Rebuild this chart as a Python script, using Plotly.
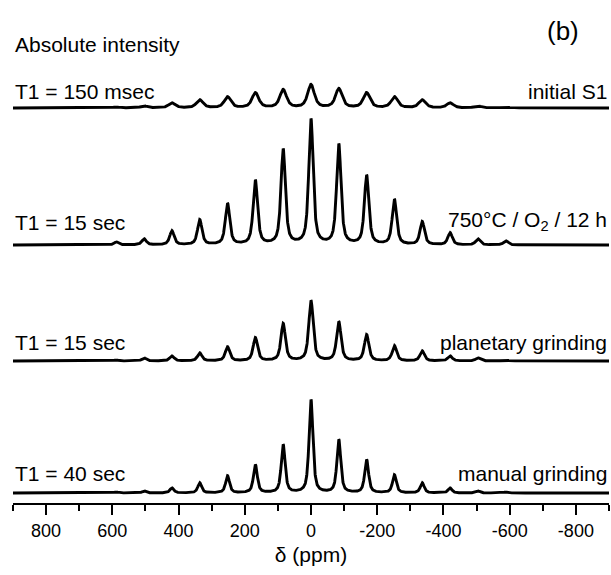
import numpy as np
import plotly.graph_objects as go

# ---- data ----
sideband_ppm = [588, 504, 420, 336, 252, 168, 84, 0, -84, -168, -252, -336, -420, -504, -588]
initial_s1 = [1, 2, 5, 8, 11, 15, 18, 23, 19, 15, 11, 8, 5, 2, 1]
annealed_750 = [3, 6, 14, 25, 41, 64, 95, 125, 100, 69, 45, 23, 12, 6, 4]
planetary = [1, 3, 5, 8, 14, 23, 37, 60, 39, 26, 15, 10, 5, 3, 1]
manual = [1, 2, 5, 10, 17, 28, 48, 93, 53, 33, 18, 10, 5, 2, 1]
fwhm_ppm = [24, 16, 16, 14]
left_labels = ["T1 = 150 msec", "T1 = 15 sec", "T1 = 15 sec", "T1 = 40 sec"]
right_labels = ["initial S1", "750°C / O<sub>2</sub> / 12 h", "planetary grinding", "manual grinding"]
tick_vals = [800, 600, 400, 200, 0, -200, -400, -600, -800]
tick_text = ["800", "600", "400", "200", "0", "-200", "-400", "-600", "-800"]

# ---- layout constants (pixel-like units, y=0 at the axis line) ----
W, H = 611, 575
ML, MR, MT, MB = 13, 2, 10, 72
plot_h = H - MT - MB
baseline_px = [108, 245, 361, 493]          # screen rows of each baseline
offsets = [(H - MB) - b for b in baseline_px]
label_dy = [3, 9, 5, 6]

ppm = np.linspace(900, -900, 3601)


def spectrum(heights, fw):
    y = np.zeros_like(ppm)
    g = fw / 2.0
    s = fw / 2.3548
    for c, h in zip(sideband_ppm, heights):
        d = ppm - c
        lor = 1.0 / (1.0 + (d / g) ** 2)
        gau = np.exp(-0.5 * (d / s) ** 2)
        y += h * (0.65 * lor + 0.35 * gau)
    return y


series = [initial_s1, annealed_750, planetary, manual]
fig = go.Figure()
for k, vals in enumerate(series):
    fig.add_trace(go.Scatter(
        x=ppm, y=spectrum(vals, fwhm_ppm[k]) + offsets[k], mode="lines",
        line=dict(color="black", width=2.9), hoverinfo="skip", showlegend=False))

font_main = "Liberation Sans, Arial, sans-serif"
LBL = 21
ann = []
for k in range(4):
    yy = offsets[k] + label_dy[k]
    ann.append(dict(x=0, xref="paper", y=yy, yref="y", text=left_labels[k], showarrow=False,
                    xanchor="left", yanchor="bottom", font=dict(size=LBL, color="black")))
    ann.append(dict(x=1, xref="paper", y=yy, yref="y", text=right_labels[k], showarrow=False,
                    xanchor="right", yanchor="bottom", font=dict(size=LBL, color="black")))
ann.append(dict(x=0, xref="paper", y=(H - MB) - 44, yref="y", text="Absolute intensity",
                showarrow=False, xanchor="left", yanchor="middle", font=dict(size=LBL, color="black")))
ann.append(dict(x=(563 - ML) / (W - ML - MR), xref="paper", y=(H - MB) - 31, yref="y", text="(b)",
                showarrow=False, xanchor="center", yanchor="middle", font=dict(size=26, color="black")))

fig.update_layout(
    width=W, height=H, margin=dict(l=ML, r=MR, t=MT, b=MB),
    paper_bgcolor="white", plot_bgcolor="white",
    font=dict(family=font_main, color="black"),
    annotations=ann,
    xaxis=dict(range=[900, -900], tickvals=tick_vals, ticktext=tick_text,
               showline=True, linecolor="black", linewidth=2, ticks="outside",
               ticklen=10, tickwidth=2, tickcolor="black", showgrid=False, zeroline=False,
               tickfont=dict(size=18, color="black"),
               minor=dict(tickvals=[900, 700, 500, 300, 100, -100, -300, -500, -700, -900],
                          ticks="outside", ticklen=6, tickwidth=2, tickcolor="black", showgrid=False),
               title=dict(text="δ (ppm)", font=dict(size=21, color="black"), standoff=8)),
    yaxis=dict(range=[0, plot_h], visible=False, showgrid=False, zeroline=False, fixedrange=True),
)

fig.write_html("out.html", config={"displayModeBar": False},
               post_script="document.body.style.margin='0px';document.body.style.overflow='hidden';")
